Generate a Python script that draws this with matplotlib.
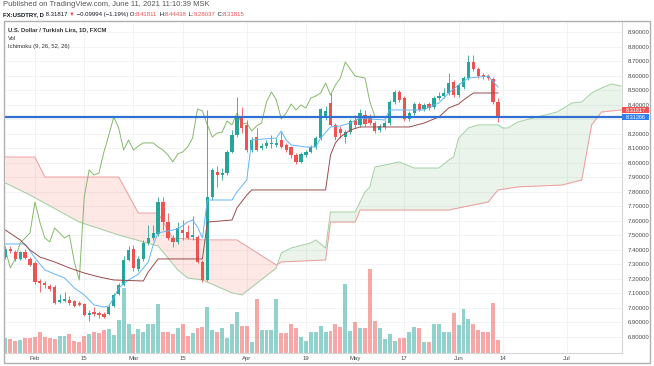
import numpy as np
import pandas as pd
import matplotlib
matplotlib.use('Agg')
import matplotlib.pyplot as plt
from matplotlib.patches import Rectangle
from matplotlib.transforms import blended_transform_factory

plt.rcParams['font.family'] = ['Liberation Sans', 'DejaVu Sans']

W, H = 654, 366

# daily bars from 2021-01-22 to 2021-06-11 (FXCM USD/TRY)
first_day = '2021-01-22'
opens = [7.350, 7.406, 7.385, 7.337, 7.385, 7.337, 7.309, 7.185, 7.171, 7.151,
         7.144, 7.041, 7.047, 7.054, 7.047, 7.034, 7.027, 6.951, 6.972, 6.965,
         6.958, 6.958, 7.013, 7.096, 7.158, 7.330, 7.406, 7.268, 7.337, 7.447,
         7.481, 7.509, 7.729, 7.591, 7.481, 7.454, 7.536, 7.523, 7.488, 7.488,
         7.316, 7.192, 7.764, 7.936, 7.915, 7.929, 8.074, 8.191, 8.308, 8.260,
         8.087, 8.177, 8.101, 8.115, 8.129, 8.122, 8.156, 8.122, 8.108, 8.053,
         8.005, 8.053, 8.074, 8.108, 8.170, 8.308, 8.411, 8.260, 8.232, 8.177,
         8.211, 8.294, 8.260, 8.328, 8.315, 8.273, 8.225, 8.246, 8.273, 8.418,
         8.487, 8.445, 8.301, 8.342, 8.404, 8.370, 8.404, 8.383, 8.445, 8.459,
         8.480, 8.556, 8.466, 8.521, 8.583, 8.693, 8.645, 8.604, 8.597, 8.576,
         8.41811]
highs = [7.426, 7.426, 7.399, 7.392, 7.406, 7.350, 7.323, 7.199, 7.185, 7.164,
         7.158, 7.096, 7.109, 7.082, 7.054, 7.047, 7.034, 6.985, 7.006, 6.979,
         6.972, 7.020, 7.103, 7.171, 7.357, 7.426, 7.433, 7.357, 7.468, 7.571,
         7.571, 7.764, 7.764, 7.653, 7.502, 7.591, 7.605, 7.571, 7.633, 7.502,
         7.330, 8.363, 7.964, 7.977, 7.964, 8.087, 8.225, 8.452, 8.383, 8.294,
         8.177, 8.239, 8.136, 8.156, 8.191, 8.170, 8.211, 8.136, 8.115, 8.067,
         8.074, 8.087, 8.122, 8.184, 8.377, 8.390, 8.480, 8.273, 8.253, 8.225,
         8.301, 8.328, 8.370, 8.363, 8.335, 8.287, 8.266, 8.294, 8.432, 8.501,
         8.501, 8.459, 8.356, 8.418, 8.418, 8.411, 8.418, 8.459, 8.487, 8.514,
         8.618, 8.570, 8.549, 8.597, 8.742, 8.742, 8.659, 8.618, 8.611, 8.590,
         8.44438]
lows = [7.337, 7.378, 7.323, 7.330, 7.337, 7.288, 7.164, 7.109, 7.137, 7.116,
        7.027, 7.034, 7.041, 7.020, 7.006, 7.013, 6.944, 6.910, 6.944, 6.930,
        6.930, 6.951, 7.006, 7.089, 7.151, 7.323, 7.254, 7.254, 7.323, 7.433,
        7.468, 7.495, 7.536, 7.468, 7.419, 7.440, 7.468, 7.474, 7.468, 7.309,
        7.178, 7.185, 7.743, 7.833, 7.881, 7.915, 8.067, 8.177, 8.204, 8.074,
        8.074, 8.080, 8.087, 8.101, 8.101, 8.108, 8.101, 8.074, 8.032, 7.991,
        7.998, 8.039, 8.067, 8.094, 8.156, 8.294, 8.253, 8.156, 8.170, 8.136,
        8.198, 8.239, 8.246, 8.253, 8.260, 8.204, 8.211, 8.232, 8.260, 8.404,
        8.418, 8.287, 8.287, 8.328, 8.356, 8.356, 8.363, 8.370, 8.432, 8.445,
        8.466, 8.452, 8.452, 8.507, 8.570, 8.631, 8.583, 8.576, 8.570, 8.404,
        8.28037]
closes = [7.406, 7.392, 7.337, 7.385, 7.344, 7.295, 7.178, 7.171, 7.158, 7.130,
          7.034, 7.054, 7.061, 7.034, 7.013, 7.020, 6.951, 6.965, 6.958, 6.951,
          6.937, 7.006, 7.089, 7.158, 7.330, 7.399, 7.275, 7.337, 7.447, 7.481,
          7.516, 7.729, 7.591, 7.481, 7.454, 7.550, 7.516, 7.481, 7.502, 7.316,
          7.192, 7.764, 7.950, 7.915, 7.929, 8.074, 8.191, 8.315, 8.239, 8.087,
          8.156, 8.087, 8.115, 8.136, 8.136, 8.136, 8.108, 8.087, 8.053, 8.005,
          8.060, 8.074, 8.108, 8.170, 8.370, 8.356, 8.260, 8.177, 8.204, 8.211,
          8.287, 8.260, 8.342, 8.266, 8.273, 8.218, 8.253, 8.273, 8.418, 8.487,
          8.432, 8.301, 8.342, 8.404, 8.363, 8.397, 8.377, 8.445, 8.459, 8.480,
          8.549, 8.466, 8.535, 8.583, 8.693, 8.645, 8.597, 8.590, 8.583, 8.41811,
          8.31815]
volume = [15.3, 14.0, 12.0, 13.0, 14.7, 15.3, 15.7, 21.0, 16.3, 14.7,
          14.0, 17.3, 17.3, 19.3, 12.0, 10.7, 17.3, 18.7, 21.3, 20.3,
          23.0, 24.0, 18.0, 33.0, 64.7, 28.7, 18.7, 24.0, 21.3, 29.3,
          29.3, 48.7, 21.3, 21.3, 18.7, 25.3, 29.3, 17.3, 20.0, 25.3,
          26.0, 46.3, 22.7, 21.3, 25.3, 15.3, 28.7, 41.3, 27.3, 27.3,
          10.7, 54.3, 23.3, 23.3, 23.3, 54.3, 20.0, 20.0, 28.7, 25.3,
          16.0, 12.0, 20.7, 20.7, 27.3, 20.7, 22.0, 28.7, 26.3, 69.3,
          22.0, 31.3, 24.7, 25.3, 83.7, 32.0, 24.7, 14.0, 18.7, 12.0,
          15.3, 15.3, 20.7, 26.3, 24.7, 10.7, 10.7, 29.3, 29.3, 20.7,
          21.3, 39.7, 28.0, 43.7, 34.0, 29.3, 23.0, 21.3, 21.3, 50.3,
          12.7]

# Ichimoku lines as (bar, price) breakpoints
tenkan_bar = [0, 4, 6, 8, 10, 12, 14, 16, 18, 20, 21, 22, 23, 25, 27, 29, 30, 31, 33, 35,
              37, 38, 39, 40, 41, 46, 47, 48, 49, 50, 55, 56, 57, 58, 61, 63, 64, 66, 68, 70,
              72, 74, 77, 78, 85, 86, 88, 90, 92, 94, 98, 100]
tenkan_val = [7.440, 7.440, 7.344, 7.261, 7.233, 7.206, 7.137, 7.089, 7.020, 7.006, 7.013,
              7.068, 7.137, 7.192, 7.233, 7.316, 7.433, 7.516, 7.530, 7.543, 7.591, 7.605,
              7.557, 7.481, 7.743, 7.743, 7.798, 7.839, 7.881, 8.156, 8.170, 8.218, 8.156,
              8.122, 8.108, 8.108, 8.170, 8.246, 8.253, 8.273, 8.308, 8.301, 8.294, 8.363,
              8.363, 8.383, 8.411, 8.480, 8.535, 8.583, 8.597, 8.521]
kijun_bar = [0, 3, 5, 7, 10, 13, 16, 19, 22, 28, 29, 31, 40, 41, 46, 47, 49, 50, 65, 66,
             67, 68, 70, 72, 82, 85, 88, 90, 92, 93, 95, 100]
kijun_val = [7.536, 7.468, 7.399, 7.350, 7.316, 7.275, 7.240, 7.213, 7.192, 7.185, 7.247,
             7.337, 7.337, 7.591, 7.605, 7.688, 7.777, 7.812, 7.812, 8.053, 8.136, 8.177,
             8.225, 8.246, 8.246, 8.273, 8.315, 8.377, 8.404, 8.432, 8.480, 8.480]
span_a_bar = [0, 5, 15, 23, 31, 33, 35, 37, 40, 46, 48, 55, 56, 58, 62, 63, 65, 66, 71, 73,
              74, 75, 80, 83, 88, 90, 91, 92, 94, 96, 100, 101, 102, 104, 108, 112, 115, 117,
              119, 121, 123, 125]
span_a_val = [7.860, 7.777, 7.591, 7.502, 7.426, 7.344, 7.261, 7.206, 7.192, 7.103, 7.089,
              7.275, 7.378, 7.412, 7.447, 7.468, 7.412, 7.660, 7.660, 7.798, 7.833, 7.970,
              8.005, 7.963, 7.963, 8.018, 8.039, 8.170, 8.239, 8.260, 8.260, 8.239, 8.239,
              8.280, 8.315, 8.349, 8.411, 8.418, 8.480, 8.514, 8.542, 8.528]
span_b_bar = [0, 6, 8, 23, 27, 31, 34, 40, 47, 55, 56, 65, 66, 71, 72, 90, 93, 98, 100, 104,
              113, 117, 119, 121, 125]
span_b_val = [8.039, 8.039, 7.901, 7.901, 7.653, 7.653, 7.481, 7.468, 7.468, 7.295, 7.316,
              7.330, 7.591, 7.591, 7.674, 7.674, 7.695, 7.729, 7.812, 7.833, 7.846, 7.881,
              8.260, 8.349, 8.363]
hline_price = 8.31266
last_price = 8.31817

price_ticks = [6.8, 6.9, 7.0, 7.1, 7.2, 7.3, 7.4, 7.5, 7.6, 7.7, 7.8, 7.9, 8.0, 8.1, 8.2,
               8.3, 8.4, 8.5, 8.6, 8.7, 8.8, 8.9]
date_ticks = ['2021-02-01', '2021-02-15', '2021-03-01', '2021-03-15', '2021-04-01',
              '2021-04-19', '2021-05-03', '2021-05-17', '2021-06-01', '2021-06-14', '2021-07-01']
date_labels = ['Feb', '15', 'Mar', '15', 'Apr', '19', 'May', '17', 'Jun', '14', 'Jul']

UP, DOWN = '#26a69a', '#ef5350'

o = np.array(opens); h = np.array(highs); l = np.array(lows); c = np.array(closes)
idx = np.arange(len(c))
days = pd.bdate_range(first_day, periods=160)
tick_idx = [days.get_loc(pd.Timestamp(d)) for d in date_ticks]
up = c >= o
colors = np.where(up, UP, DOWN)


def fx(x):
    return x / W


def fy(y):
    return 1 - y / H


fig = plt.figure(figsize=(W / 100, H / 100), dpi=100)
left, right, top, bottom = 4.5, 622, 22, 353
rect = [fx(left), fy(bottom), fx(right) - fx(left), fy(top) - fy(bottom)]
axv = fig.add_axes(rect)
ax = fig.add_axes(rect, sharex=axv)
ax.patch.set_visible(False)

ax.set_xlim(-0.18, 125.17)
ax.set_ylim(6.689, 8.969)

# grid
grid_c = '#f0f1f4'
axv.vlines(tick_idx, 0, 1, transform=blended_transform_factory(axv.transData, axv.transAxes),
           color=grid_c, lw=0.6, zorder=0)
axv.hlines(price_ticks, 0, 1, transform=blended_transform_factory(axv.transAxes, ax.transData),
           color=grid_c, lw=0.6, zorder=0)

# volume
axv.bar(idx, volume, width=0.8, color=colors, alpha=0.5, linewidth=0, zorder=1)
axv.set_ylim(0, max(volume) / 0.253)
axv.axis('off')

# ichimoku cloud
grid = np.linspace(0, 125, 2501)
sa = np.interp(grid, span_a_bar, span_a_val)
sb = np.interp(grid, span_b_bar, span_b_val)
ax.fill_between(grid, sa, sb, where=sa >= sb, interpolate=True, color='#43a047', alpha=0.11,
                linewidth=0, zorder=1)
ax.fill_between(grid, sa, sb, where=sa < sb, interpolate=True, color='#f44336', alpha=0.12,
                linewidth=0, zorder=1)
ax.plot(span_a_bar, span_a_val, color='#9fcf9f', lw=0.7, zorder=2)
ax.plot(span_b_bar, span_b_val, color='#ef9a9a', lw=0.7, zorder=2)
ax.plot(idx[:len(c) - 25], c[25:], color='#86b96b', lw=0.7, zorder=2)
ax.plot(tenkan_bar, tenkan_val, color='#64b5f6', lw=0.7, zorder=4)
ax.plot(kijun_bar, kijun_val, color='#9a4b4b', lw=0.7, zorder=4)

# candles
ax.vlines(idx, l, h, color=colors, lw=0.6, zorder=3)
body = np.maximum(np.abs(c - o), 0.006)
ax.bar(idx, body, bottom=np.minimum(o, c), width=0.66, color=colors, linewidth=0, zorder=3)

ax.axhline(hline_price, color='#3070d0', lw=1.6, zorder=6)

# axes styling
for s in ['left', 'top']:
    ax.spines[s].set_visible(False)
for s in ['right', 'bottom']:
    ax.spines[s].set_color('#d6d6d6')
    ax.spines[s].set_linewidth(0.8)
ax.yaxis.tick_right()
ax.set_yticks(price_ticks)
ax.set_yticklabels(['' if abs(p - 8.3) < 1e-9 else f'{p:.5f}' for p in price_ticks])
ax.set_xticks(tick_idx)
ax.set_xticklabels(date_labels)
ax.tick_params(axis='y', length=0, pad=4, labelsize=4.3, labelcolor='#4a4a4a')
ax.tick_params(axis='x', length=0, pad=2.5, labelsize=4.3, labelcolor='#4a4a4a')

# price labels on the scale
for yc, txt, col in [(110.3, f'{last_price:.5f}', '#ef5350'), (117.3, f'{hline_price:.5f}', '#2f80ed')]:
    fig.add_artist(Rectangle((fx(622), fy(yc + 3)), fx(649) - fx(622), fy(yc - 3) - fy(yc + 3),
                             transform=fig.transFigure, color=col, lw=0))
    fig.text(fx(625.5), fy(yc), txt, color='white', fontsize=4.0, va='center', ha='left')

# outer frame
fig.add_artist(Rectangle((fx(4), fy(363)), fx(650) - fx(4), fy(21) - fy(363),
                         transform=fig.transFigure, fill=False, ec='#b0b0b0', lw=1.0))

# header
renderer = fig.canvas.get_renderer()


def pieces(x_px, y_px, parts, size):
    x = x_px
    for s, col, wt in parts:
        t = fig.text(fx(x), fy(y_px), s, color=col, fontsize=size, fontweight=wt,
                     va='center', ha='left')
        x += t.get_window_extent(renderer=renderer).width


fig.text(fx(3), fy(5), 'Published on TradingView.com, June 11, 2021 11:10:39 MSK',
         fontsize=5.5, color='#555555', va='center', ha='left')
dark = '#131722'
pieces(3, 14.5, [('FX:USDTRY, D', dark, 'bold'), (' 8.31817 ', dark, 'normal'),
                 ('▼', DOWN, 'normal'), (' −0.09994 (−1.19%) O:', dark, 'normal'),
                 ('8.41811', DOWN, 'normal'), (' H:', dark, 'normal'), ('8.44438', DOWN, 'normal'),
                 (' L:', dark, 'normal'), ('8.28037', DOWN, 'normal'), (' C:', dark, 'normal'),
                 ('8.31815', DOWN, 'normal')], 4.3)

fig.text(fx(8), fy(29.5), 'U.S. Dollar / Turkish Lira, 1D, FXCM', fontsize=4.2, fontweight='bold',
         color='#333333', va='center', ha='left')
fig.text(fx(8), fy(38), 'Vol', fontsize=4.2, color='#333333', va='center', ha='left')
fig.text(fx(8), fy(46.5), 'Ichimoku (9, 26, 52, 26)', fontsize=4.2, color='#333333',
         va='center', ha='left')

fig.savefig('out.png', dpi=100, facecolor='white')
